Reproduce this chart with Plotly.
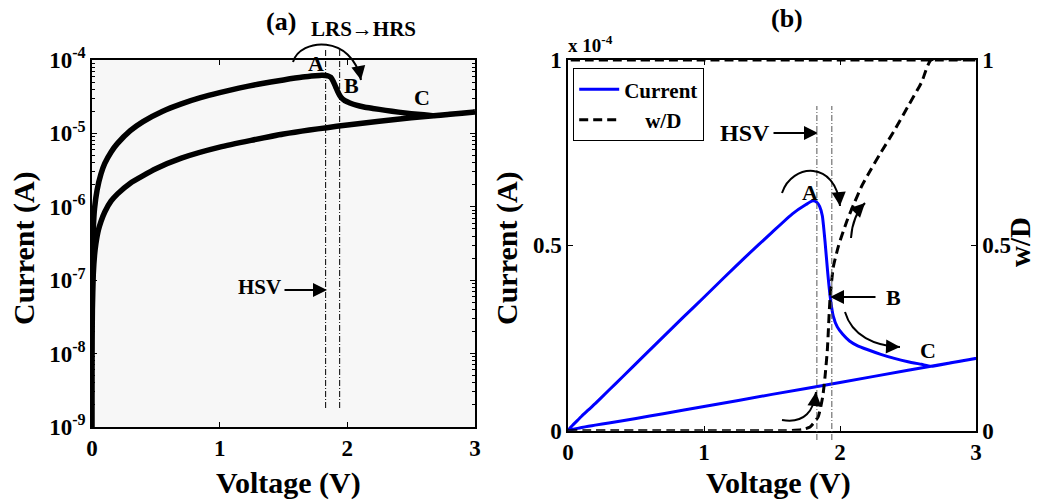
import plotly.graph_objects as go

# ---------------- data ----------------
# forward sweep 0 -> 3 V (LRS, switching at A/B, decaying to HRS at C)
V_up = [0, 0.0001, 0.0003, 0.001, 0.003, 0.01, 0.02, 0.04, 0.07, 0.1, 0.15, 0.2,
        0.3, 0.4, 0.55, 0.7, 0.85, 1.0, 1.15, 1.3, 1.5, 1.65, 1.75, 1.80, 1.83,
        1.85, 1.87, 1.89, 1.91, 1.93, 1.95, 1.98, 2.02, 2.07, 2.13, 2.2, 2.3,
        2.4, 2.5, 2.6, 2.67, 2.8, 3.0]
I_up = [0, 5e-9, 1.5e-8, 5e-8, 1.5e-7, 5e-7, 9.5e-7, 1.7e-6, 2.8e-6, 3.9e-6,
        5.6e-6, 7.3e-6, 1.09e-5, 1.45e-5, 1.99e-5, 2.53e-5, 3.07e-5, 3.6e-5,
        4.14e-5, 4.67e-5, 5.35e-5, 5.85e-5, 6.1e-5, 6.2e-5, 6.16e-5, 6.05e-5,
        5.8e-5, 5.1e-5, 4.25e-5, 3.55e-5, 3.1e-5, 2.8e-5, 2.6e-5, 2.42e-5,
        2.29e-5, 2.19e-5, 2.06e-5, 1.95e-5, 1.86e-5, 1.79e-5, 1.74e-5, 1.82e-5,
        1.95e-5]
# return sweep 3 -> 0 V (HRS)
V_down = [3.0, 2.5, 2.0, 1.5, 1.0, 0.7, 0.5, 0.3, 0.2, 0.15, 0.1, 0.07, 0.05,
          0.03, 0.02, 0.01, 0.003, 0.001, 0.0003, 0.0001, 0]
I_down = [1.95e-5, 1.63e-5, 1.3e-5, 9.8e-6, 6.5e-6, 4.6e-6, 3.3e-6, 2.1e-6,
          1.5e-6, 1.2e-6, 8.5e-7, 6.3e-7, 4.8e-7, 3.1e-7, 2.2e-7, 1.2e-7, 4e-8,
          1.4e-8, 4.5e-9, 1.5e-9, 0]
# normalised filament width w/D (forward then return)
V_wD = [0, 1.0, 1.6, 1.72, 1.78, 1.84, 1.873, 1.89, 1.907, 1.926, 1.95, 1.99,
        2.05, 2.1, 2.16, 2.22, 2.3, 2.4, 2.5, 2.6, 2.67, 3.0, 2.0, 1.0, 0]
wD = [0, 0, 0, 0.003, 0.01, 0.038, 0.092, 0.146, 0.218, 0.353, 0.44, 0.50,
      0.565, 0.61, 0.66, 0.70, 0.75, 0.81, 0.875, 0.94, 1.0, 1.0,
      1.0, 1.0, 1.0]
hsv_V = [1.83, 1.94]

x_ticks = [0, 1, 2, 3]
log_tickvals = [1e-9, 1e-8, 1e-7, 1e-6, 1e-5, 1e-4]
log_ticktext = ['10<sup>-9</sup>', '10<sup>-8</sup>', '10<sup>-7</sup>',
                '10<sup>-6</sup>', '10<sup>-5</sup>', '10<sup>-4</sup>']
cur_tickvals = [0, 0.5e-4, 1e-4]
cur_ticktext = ['0', '0.5', '1']
wd_tickvals = [0, 0.5, 1]
wd_ticktext = ['0', '0.5', '1']

V_all = V_up + V_down[1:]
I_all = I_up + I_down[1:]

# ---------------- layout helpers ----------------
W, H = 1037, 504
FONT = 'Liberation Serif'


def px(x):
    return x / W


def py(y):
    return 1 - y / H


def f(size, color='black'):
    return dict(family=FONT, size=size, color=color, weight='bold')


fig = go.Figure()
fig.add_trace(go.Scatter(x=V_all, y=I_all, xaxis='x', yaxis='y', mode='lines',
                         line=dict(color='black', width=5.5, shape='spline',
                                   smoothing=0.5),
                         showlegend=False))
fig.add_trace(go.Scatter(x=V_all, y=I_all, xaxis='x2', yaxis='y2', mode='lines',
                         line=dict(color='#0000ff', width=3, shape='spline',
                                   smoothing=0.5),
                         name='Current'))
fig.add_trace(go.Scatter(x=V_wD, y=wD, xaxis='x2', yaxis='y3', mode='lines',
                         line=dict(color='black', width=3, dash='9px,5px',
                                   shape='spline', smoothing=0.5),
                         name='\u00a0\u00a0\u00a0\u00a0w/D'))

minor_vals = [m * 10.0 ** e for e in range(-9, -4) for m in range(2, 10)]

common = dict(showline=True, linecolor='black', linewidth=1.5, ticks='inside',
              ticklen=5, tickcolor='black', tickwidth=1, showgrid=False,
              zeroline=False, tickfont=f(23), automargin=False)

fig.update_layout(
    width=W, height=H, margin=dict(l=0, r=0, t=0, b=0, autoexpand=False),
    paper_bgcolor='white', plot_bgcolor='white',
    xaxis=dict(domain=[px(92), px(475)], range=[0, 3], tickvals=x_ticks,
               anchor='y', mirror='ticks', **common),
    yaxis=dict(domain=[py(427), py(60)], type='log', range=[-9, -4],
               tickvals=log_tickvals, ticktext=log_ticktext, anchor='x',
               mirror='ticks',
               minor=dict(tickvals=minor_vals, ticks='inside', ticklen=3,
                          tickcolor='black'),
               **common),
    xaxis2=dict(domain=[px(568), px(976)], range=[0, 3], tickvals=x_ticks,
                anchor='y2', mirror='ticks', **common),
    yaxis2=dict(domain=[py(430.7), py(60)], range=[0, 1e-4],
                tickvals=cur_tickvals, ticktext=cur_ticktext, anchor='x2',
                **common),
    yaxis3=dict(range=[0, 1], overlaying='y2', side='right', anchor='x2',
                tickvals=wd_tickvals, ticktext=wd_ticktext, **common),
    legend=dict(x=px(573), y=py(68), xanchor='left', yanchor='top',
                bordercolor='black', borderwidth=1.2, bgcolor='white',
                font=f(21), tracegroupgap=0, itemwidth=40),
)

shapes = []
# light grey background of panel (a)
shapes.append(dict(type='rect', xref='x domain', yref='y domain', x0=0, x1=1,
                   y0=0, y1=1, fillcolor='#f7f7f7', line=dict(width=0),
                   layer='below'))
# HSV marker lines
for v in hsv_V:
    shapes.append(dict(type='line', xref='x', yref='paper', x0=v, x1=v,
                       y0=py(408), y1=py(48),
                       line=dict(color='black', width=1, dash='6px,2px,1px,2px')))
    shapes.append(dict(type='line', xref='x2', yref='paper', x0=v, x1=v,
                       y0=py(440), y1=py(106),
                       line=dict(color='#555555', width=1, dash='6px,2px,1px,2px')))

annotations = []


def curve(p0, c1, c2, p1):
    path = 'M {},{} C {},{} {},{} {},{}'.format(
        px(p0[0]), py(p0[1]), px(c1[0]), py(c1[1]), px(c2[0]), py(c2[1]),
        px(p1[0]), py(p1[1]))
    shapes.append(dict(type='path', xref='paper', yref='paper', path=path,
                       line=dict(color='black', width=2)))
    dx, dy = p1[0] - c2[0], p1[1] - c2[1]
    n = (dx * dx + dy * dy) ** 0.5
    annotations.append(dict(xref='paper', yref='paper', x=px(p1[0]), y=py(p1[1]),
                            ax=-dx / n * 8, ay=-dy / n * 8, text='',
                            showarrow=True, arrowhead=2, arrowsize=1.4,
                            arrowwidth=2, arrowcolor='black', standoff=0))


def arrow(tail, tip, width=2):
    annotations.append(dict(xref='paper', yref='paper', x=px(tip[0]), y=py(tip[1]),
                            ax=tail[0] - tip[0], ay=tail[1] - tip[1], text='',
                            showarrow=True, arrowhead=2, arrowsize=1.4,
                            arrowwidth=width, arrowcolor='black', standoff=0))


def text(t, x, y, size, xanchor='center', angle=0):
    annotations.append(dict(xref='paper', yref='paper', x=px(x), y=py(y),
                            text=t, showarrow=False, font=f(size),
                            xanchor=xanchor, yanchor='middle', textangle=angle))


# panel (a)
text('(a)', 281, 22, 26)
text('LRS\u2192HRS', 363, 29, 21)
text('A', 316, 63, 22)
text('B', 351, 85, 22)
text('C', 422, 98, 22)
text('HSV', 283, 287, 21, xanchor='right')
arrow((283, 290), (327, 290))
curve((293, 62), (300, 38), (352, 34), (361, 80))
text('Voltage (V)', 288, 483, 30)
text('Current (A)', 24, 248, 30, angle=-90)

# panel (b)
text('(b)', 787, 19, 26)
text('x 10<sup>-4</sup>', 566, 44, 19, xanchor='left')
text('A', 810, 192, 22)
text('B', 893, 297, 22)
text('C', 928, 350, 22)
text('HSV', 772, 133, 24, xanchor='right')
arrow((772, 133), (818, 133))
arrow((877, 297), (830, 297))
curve((782, 193), (792, 163), (836, 160), (840, 206))
curve((851, 238), (852, 224), (856, 212), (865, 203))
curve((845, 312), (852, 336), (875, 346), (900, 347))
curve((782, 420), (805, 424), (814, 410), (816, 392))
text('Voltage (V)', 778, 483, 30)
text('Current (A)', 507, 248, 30, angle=-90)
text('w/D', 1020, 242, 29, angle=-90)

fig.update_layout(shapes=shapes, annotations=annotations)
fig.write_html('out.html')
